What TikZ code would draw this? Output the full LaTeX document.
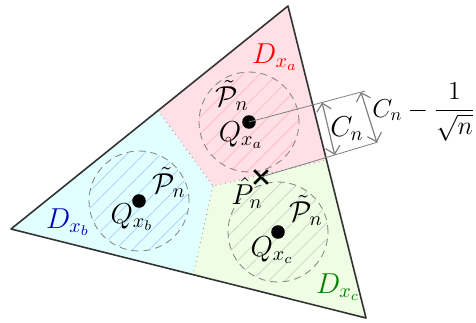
\documentclass[tikz,border=0pt]{standalone}
\usepackage{amsmath,amssymb}
\usetikzlibrary{arrows.meta,calc,patterns.meta,shapes.misc}
\definecolor{cellA}{RGB}{255,224,230}
\definecolor{cellB}{RGB}{226,255,255}
\definecolor{cellC}{RGB}{239,253,228}
\definecolor{hatchA}{RGB}{255,180,185}
\definecolor{hatchB}{RGB}{165,205,250}
\definecolor{hatchC}{RGB}{195,208,195}
\tikzset{
  edge/.style  = {draw=black!80, line width=0.8pt, line join=round},
  border/.style = {gray, dotted, thin},
  ball/.style  = {gray, dashed, thin, dash pattern=on 3.5pt off 2.5pt},
  hatch/.style = {pattern={Lines[angle=45,distance=6.5pt,line width=0.45pt]},
                  pattern color=#1},
  dot/.style   = {circle, fill=black, inner sep=2.4pt},
  xmark/.style = {cross out, draw=black, line width=1.3pt, minimum size=5.5pt, inner sep=0pt},
  ext/.style   = {gray, thin},
  dim/.style   = {{Straight Barb[length=1.3mm]}-{Straight Barb[length=1.3mm]}, gray, semithick},
  lbl/.style   = {font=\Large, inner sep=0.5pt},
}
\begin{document}
\begin{tikzpicture}[x=25pt,y=25pt]
  \useasboundingbox (0,0) rectangle (9.52,6.44);
  % triangle and cell corners
  \coordinate (T) at (5.76,6.32);
  \coordinate (L) at (0.22,1.86);
  \coordinate (R) at (7.32,0.08);
  \coordinate (J) at (4.26,2.72);
  \coordinate (ab) at ($(L)!0.531!(T)$);
  \coordinate (ac) at ($(T)!0.494!(R)$);
  \coordinate (bc) at ($(L)!0.513!(R)$);
  \fill[cellA] (T) -- (ac) -- (J) -- (ab) -- cycle;
  \fill[cellB] (L) -- (ab) -- (J) -- (bc) -- cycle;
  \fill[cellC] (R) -- (bc) -- (J) -- (ac) -- cycle;
  \draw[border] (ab) -- (J) -- (ac);
  \draw[border] (J) -- (bc);
  % balls
  \coordinate (qa) at (4.98,4.00);
  \coordinate (qb) at (2.78,2.42);
  \coordinate (qc) at (5.56,1.80);
  \draw[ball, hatch=hatchA] (qa) circle (1);
  \draw[ball, hatch=hatchB] (qb) circle (1);
  \draw[ball, hatch=hatchC] (qc) circle (1);
  \draw[edge] (T) -- (L) -- (R) -- cycle;
  \node[dot] (Qa) at (qa) {};
  \node[dot] (Qb) at (qb) {};
  \node[dot] (Qc) at (qc) {};
  \node[xmark] (Ph) at (5.22,2.90) {};
  % labels
  \node[lbl, red] (Da) at (5.50,5.30) {$D_{x_a}$};
  \node[lbl, blue!75!black] (Db) at (1.36,2.00) {$D_{x_b}$};
  \node[lbl, green!50!black] (Dc) at (6.76,0.70) {$D_{x_c}$};
  \node[lbl] (Pa) at (4.64,4.53) {$\tilde{\mathcal{P}}_n$};
  \node[lbl] (Pb) at (3.38,2.79) {$\tilde{\mathcal{P}}_n$};
  \node[lbl] (Pc) at (6.12,2.23) {$\tilde{\mathcal{P}}_n$};
  \node[lbl] (La) at (4.82,3.74) {$Q_{x_a}$};
  \node[lbl] (Lb) at (2.64,2.10) {$Q_{x_b}$};
  \node[lbl] (Lc) at (5.44,1.44) {$Q_{x_c}$};
  \node[lbl] (Lh) at (4.94,2.58) {$\hat{P}_n$};
  % distances
  \coordinate (ua) at (7.30,4.62);
  \coordinate (ub) at (7.56,3.60);
  \draw[ext] (Qa.center) -- (ua);
  \draw[ext] (Ph.center) -- (ub);
  \draw[dim] ($(qa)!0.63!(ua)$) -- ($(Ph.center)!0.63!(ub)$);
  \draw[dim] ($(qa)!0.965!(ua)$) -- ($(Ph.center)!0.99!(ub)$);
  \node[lbl] (Cn) at (6.94,3.86) {$C_n$};
  \node[lbl, scale=0.9, transform shape, anchor=west, inner sep=0pt] (Cm)
      at (7.44,4.20) {$C_n - \dfrac{1}{\sqrt{n}}$};
\end{tikzpicture}
\end{document}
